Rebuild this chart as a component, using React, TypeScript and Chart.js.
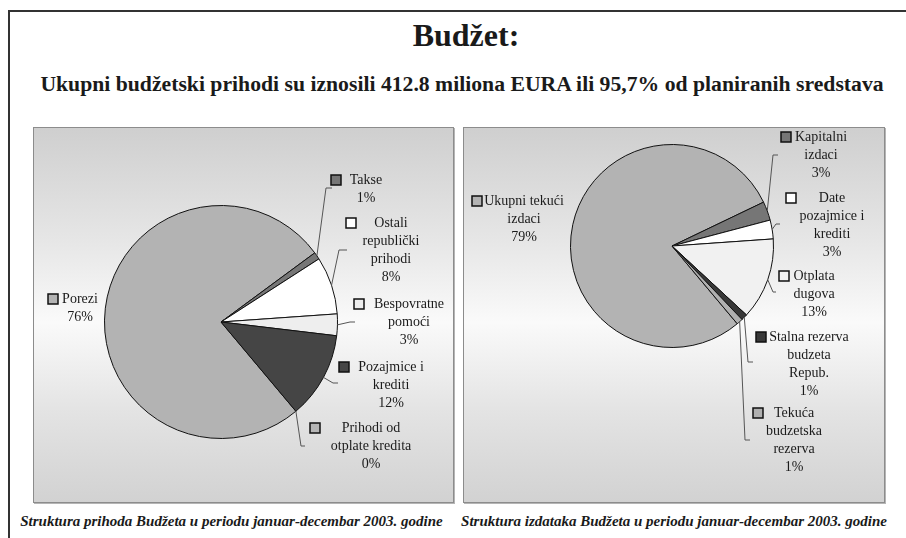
import React, { useEffect, useRef } from "react";
import { Chart, registerables } from "chart.js";

Chart.register(...registerables);

// ---------- data ----------
const incomeCategories = [
  "Porezi",
  "Takse",
  "Ostali\nrepublički\nprihodi",
  "Bespovratne\npomoći",
  "Pozajmice i\nkrediti",
  "Prihodi od\notplate kredita",
];
const incomeValues = [76, 1, 8, 3, 12, 0];
const incomeColors = ["#b3b3b3", "#767676", "#ffffff", "#eeeeee", "#454545", "#b6b6b6"];

const expenseCategories = [
  "Ukupni tekući\nizdaci",
  "Kapitalni\nizdaci",
  "Date\npozajmice i\nkrediti",
  "Otplata\ndugova",
  "Stalna rezerva\nbudzeta\nRepub.",
  "Tekuća\nbudzetska\nrezerva",
];
const expenseValues = [79, 3, 3, 13, 1, 1];
const expenseColors = ["#b3b3b3", "#767676", "#ffffff", "#f1f1f1", "#383838", "#b0b0b0"];

const titleText = "Budžet:";
const subtitleText =
  "Ukupni budžetski prihodi su iznosili 412.8 miliona EURA ili 95,7% od planiranih sredstava";
const incomeCaption = "Struktura prihoda Budžeta u periodu januar-decembar 2003. godine";
const expenseCaption = "Struktura izdataka Budžeta u periodu januar-decembar 2003. godine";

const SERIF = "'Liberation Serif', 'DejaVu Serif', 'Times New Roman', serif";
const LABEL_FONT = "14px " + SERIF;

// ---------- layout (relative to the pie centre) ----------
type LabelLayout = {
  text: [number, number];
  square: number;
  elbow?: [number, number];
  end?: [number, number];
};

const incomeLayout: LabelLayout[] = [
  { text: [-141, -23], square: -168 },
  { text: [145, -142], square: 115, elbow: [105, -134], end: [111, -134] },
  { text: [170, -99], square: 130, elbow: [118, -72], end: [126, -72] },
  { text: [188, -18], square: 138, elbow: [129, 0], end: [134, 0] },
  { text: [170, 45], square: 123, elbow: [112, 61], end: [117, 61] },
  { text: [150, 106], square: 94, elbow: [80, 124], end: [84, 124] },
];

const expenseLayout: LabelLayout[] = [
  { text: [-148, -45], square: -195 },
  { text: [149, -109], square: 114, elbow: [101, -91], end: [106, -91] },
  { text: [160, -48], square: 119, elbow: [104, -22], end: [108, -22] },
  { text: [142, 30], square: 112, elbow: [101, 46], end: [104, 46] },
  { text: [137, 91], square: 89, elbow: [76, 116], end: [81, 116] },
  { text: [122, 167], square: 86, elbow: [73, 194], end: [78, 194] },
];

const pieLabelsPlugin = {
  id: "pieLabels",
  afterDatasetsDraw(chart: any, _args: any, opts: any) {
    const layout: LabelLayout[] = opts.layout;
    if (!layout) return;
    const ctx: CanvasRenderingContext2D = chart.ctx;
    const meta = chart.getDatasetMeta(0);
    const ds = chart.data.datasets[0];
    const labels = chart.data.labels as string[];
    meta.data.forEach((el: any, i: number) => {
      const { x, y, startAngle, endAngle, outerRadius } = el.getProps(
        ["x", "y", "startAngle", "endAngle", "outerRadius"],
        true
      );
      const L = layout[i];
      const mid = (startAngle + endAngle) / 2;
      ctx.save();
      if (L.elbow && L.end) {
        ctx.strokeStyle = "#555";
        ctx.lineWidth = 1;
        ctx.beginPath();
        ctx.moveTo(x + Math.cos(mid) * outerRadius, y + Math.sin(mid) * outerRadius);
        ctx.lineTo(x + L.elbow[0], y + L.elbow[1]);
        ctx.lineTo(x + L.end[0], y + L.end[1]);
        ctx.stroke();
      }
      const lines = [...labels[i].split("\n"), `${ds.data[i]}%`];
      ctx.font = LABEL_FONT;
      ctx.fillStyle = "#1a1a1a";
      ctx.textAlign = "center";
      ctx.textBaseline = "middle";
      lines.forEach((t, k) => ctx.fillText(t, x + L.text[0], y + L.text[1] + k * 18));
      const size = 10;
      const sx = x + L.square - size / 2;
      const sy = y + L.text[1] - size / 2;
      ctx.fillStyle = ds.backgroundColor[i];
      ctx.fillRect(sx, sy, size, size);
      ctx.strokeStyle = "#111";
      ctx.lineWidth = 1.5;
      ctx.strokeRect(sx, sy, size, size);
      ctx.restore();
    });
  },
};

type PieProps = {
  left: number;
  top: number;
  width: number;
  height: number;
  labels: string[];
  values: number[];
  colors: string[];
  padding: { left: number; top: number; right: number; bottom: number };
  layout: LabelLayout[];
};

function PiePanel(p: PieProps) {
  const ref = useRef<HTMLCanvasElement | null>(null);
  useEffect(() => {
    if (!ref.current) return;
    let alive = true;
    const chart = new Chart(ref.current, {
      type: "pie",
      data: {
        labels: p.labels,
        datasets: [
          {
            data: p.values,
            backgroundColor: p.colors,
            borderColor: "#111",
            borderWidth: 1,
          },
        ],
      },
      options: {
        responsive: false,
        animation: false,
        rotation: 140,
        layout: { padding: p.padding },
        events: [],
        plugins: {
          legend: { display: false },
          tooltip: { enabled: false },
          pieLabels: { layout: p.layout },
        } as any,
      },
      plugins: [pieLabelsPlugin as any],
    });
    const fonts: any = (document as any).fonts;
    if (fonts && fonts.load) {
      fonts
        .load(LABEL_FONT, "Takse")
        .then(() => {
          if (alive) chart.update();
        })
        .catch(() => {});
    }
    return () => {
      alive = false;
      chart.destroy();
    };
  }, []);
  return (
    <>
      <div
        style={{
          position: "absolute",
          left: p.left,
          top: p.top,
          width: p.width,
          height: p.height,
          boxSizing: "border-box",
          border: "1px solid #8c8c8c",
          boxShadow: "1px 1px 0 #b5b5b5",
          background:
            "linear-gradient(to bottom, #cfcfcf 0%, #e6e6e6 30%, #fafafa 52%, #e4e4e4 75%, #d2d2d2 100%)",
        }}
      />
      <canvas
        ref={ref}
        width={p.width}
        height={p.height}
        style={{ position: "absolute", left: p.left, top: p.top, width: p.width, height: p.height }}
      />
    </>
  );
}

export default function App() {
  return (
    <div
      style={{
        position: "absolute",
        left: 0,
        top: 0,
        width: 906,
        height: 538,
        overflow: "hidden",
        background: "#ffffff",
        fontFamily: SERIF,
        color: "#1a1a1a",
      }}
    >
      <div
        style={{
          position: "absolute",
          left: 7.5,
          top: 9.5,
          width: 1000,
          height: 1000,
          borderLeft: "2.5px solid #333",
          borderTop: "2.5px solid #333",
        }}
      />
      <div
        style={{
          position: "absolute",
          left: 466,
          top: 19,
          transform: "translateX(-50%)",
          whiteSpace: "nowrap",
          fontSize: 32,
          lineHeight: "32px",
          fontWeight: "bold",
        }}
      >
        {titleText}
      </div>
      <div
        style={{
          position: "absolute",
          left: 462,
          top: 74,
          transform: "translateX(-50%)",
          whiteSpace: "nowrap",
          fontSize: 21.7,
          lineHeight: "21.7px",
          fontWeight: "bold",
        }}
      >
        {subtitleText}
      </div>
      <PiePanel
        left={33}
        top={127}
        width={421}
        height={376}
        labels={incomeCategories}
        values={incomeValues}
        colors={incomeColors}
        padding={{ left: 71, top: 78, right: 116, bottom: 64 }}
        layout={incomeLayout}
      />
      <PiePanel
        left={463}
        top={127}
        width={422}
        height={376}
        labels={expenseCategories}
        values={expenseValues}
        colors={expenseColors}
        padding={{ left: 107, top: 17, right: 111, bottom: 155 }}
        layout={expenseLayout}
      />
      <div
        style={{
          position: "absolute",
          left: 231.5,
          top: 514,
          transform: "translateX(-50%)",
          whiteSpace: "nowrap",
          fontSize: 15,
          lineHeight: "15px",
          fontWeight: "bold",
          fontStyle: "italic",
        }}
      >
        {incomeCaption}
      </div>
      <div
        style={{
          position: "absolute",
          left: 674,
          top: 514,
          transform: "translateX(-50%)",
          whiteSpace: "nowrap",
          fontSize: 15,
          lineHeight: "15px",
          fontWeight: "bold",
          fontStyle: "italic",
        }}
      >
        {expenseCaption}
      </div>
    </div>
  );
}
